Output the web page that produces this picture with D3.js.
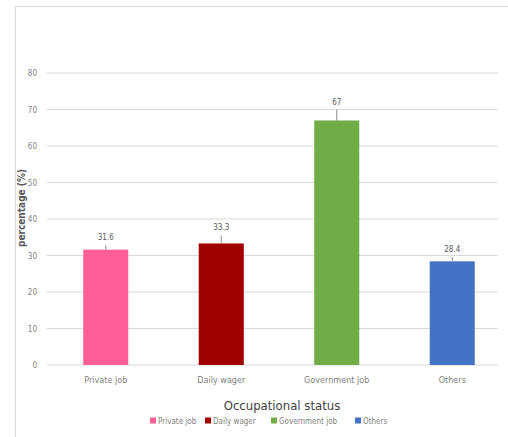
<!DOCTYPE html>
<html><head><meta charset="utf-8">
<script src="https://cdn.jsdelivr.net/npm/d3@7"></script>
<style>
body{margin:0;background:#fff;}
text{font-family:"Liberation Sans Narrow","DejaVu Sans Condensed","Liberation Sans",sans-serif;}
</style></head>
<body><svg id="c" width="508" height="437"></svg>
<script>
const categories = ["Private job","Daily wager","Government job","Others"];
const values = [31.6, 33.3, 67, 28.4];
const labels = ["31.6","33.3","67","28.4"];
const errors = [1.2, 2.2, 3, 1.2];
const colors = ["#FF5F96","#A00000","#70AD47","#4472C4"];
const yTicks = [0,10,20,30,40,50,60,70,80];

const svg = d3.select("#c");
svg.append("rect").attr("x",15.5).attr("y",6.5).attr("width",520).attr("height",460)
  .attr("fill","#fff").attr("stroke","#d9d9d9");

const x = d3.scaleBand().domain(categories).range([48,510]).paddingInner(0.61).paddingOuter(0.305);
const y = d3.scaleLinear().domain([0,80]).range([365,73]);

// gridlines
svg.append("g").selectAll("line").data(yTicks).join("line")
  .attr("x1",47).attr("x2",498).attr("y1",d=>y(d)).attr("y2",d=>y(d))
  .attr("stroke","#d9d9d9").attr("stroke-width",1);

// y axis labels
const yAxis = d3.axisLeft(y).tickValues(yTicks).tickSize(0).tickPadding(8);
const gy = svg.append("g").attr("transform","translate(45,0)").call(yAxis);
gy.select(".domain").remove();
gy.selectAll("text").attr("fill","#7f7f7f").attr("font-size",8);

// bars
svg.append("g").selectAll("rect").data(values).join("rect")
  .attr("x",(d,i)=>x(categories[i])).attr("width",x.bandwidth())
  .attr("y",d=>y(d)).attr("height",d=>y(0)-y(d))
  .attr("fill",(d,i)=>colors[i]);

// error bars
svg.append("g").selectAll("line").data(values).join("line")
  .attr("x1",(d,i)=>x(categories[i])+x.bandwidth()/2).attr("x2",(d,i)=>x(categories[i])+x.bandwidth()/2)
  .attr("y1",d=>y(d)).attr("y2",(d,i)=>y(d+errors[i]))
  .attr("stroke","#8c8c8c").attr("stroke-width",1);

// data labels
svg.append("g").selectAll("text").data(values).join("text")
  .attr("x",(d,i)=>x(categories[i])+x.bandwidth()/2).attr("y",(d,i)=>y(d+errors[i])-5)
  .attr("text-anchor","middle").attr("font-size",8).attr("fill","#595959")
  .text((d,i)=>labels[i]);

// x axis labels
const xAxis = d3.axisBottom(x).tickSize(0).tickPadding(12);
const gx = svg.append("g").attr("transform","translate(0,365)").call(xAxis);
gx.select(".domain").remove();
gx.selectAll("text").attr("fill","#7f7f7f").attr("font-size",9);

// axis titles
svg.append("text").attr("transform","translate(25,208) rotate(-90)")
  .attr("text-anchor","middle").attr("font-size",10).attr("font-weight","bold").attr("fill","#595959")
  .text("percentage (%)");
svg.append("text").attr("x",282).attr("y",410).attr("text-anchor","middle")
  .attr("font-size",13).attr("fill","#404040").text("Occupational status");

// legend
const legX = [150,205,271,355];
const lg = svg.append("g").selectAll("g").data(categories).join("g")
  .attr("transform",(d,i)=>`translate(${legX[i]},421)`);
lg.append("rect").attr("x",0).attr("y",-3.5).attr("width",6).attr("height",6).attr("fill",(d,i)=>colors[i]);
lg.append("text").attr("x",8).attr("y",3).attr("font-size",8).attr("fill","#7f7f7f").text(d=>d);
</script></body></html>
